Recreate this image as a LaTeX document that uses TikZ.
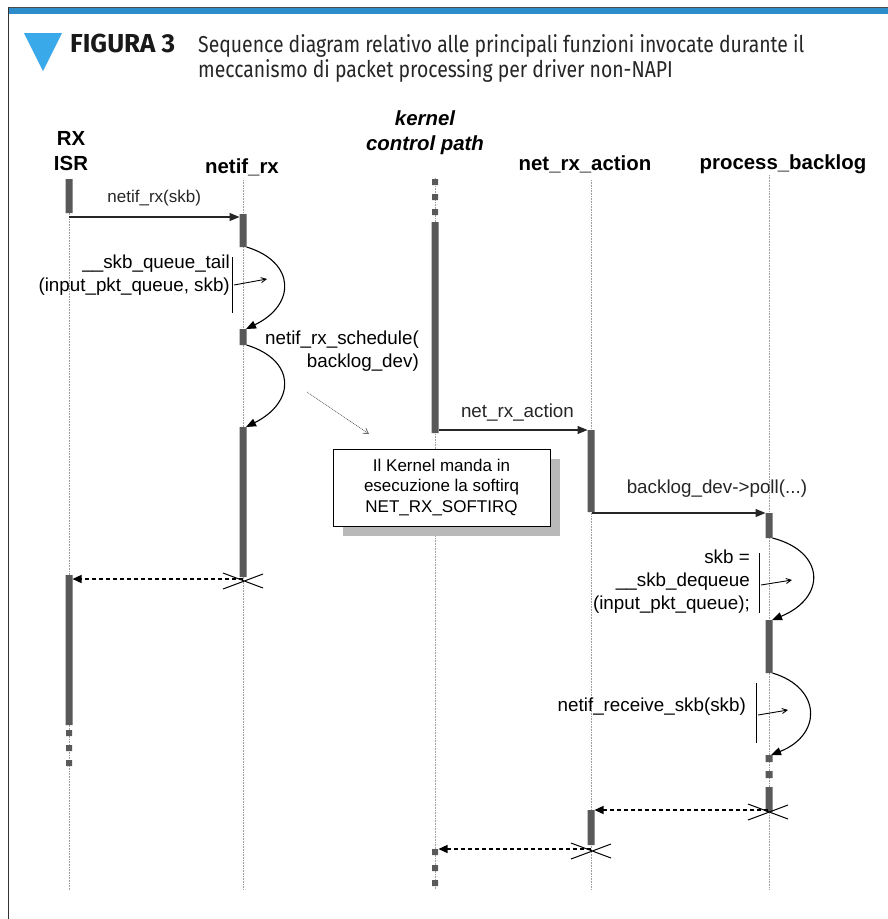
\documentclass[tikz,border=0pt]{standalone}
\usepackage{fontspec}
\setmainfont{Liberation Sans}
\newfontfamily\capfont[FakeStretch=0.843]{Fira Sans}
\newfontfamily\figfont{Fira Sans}
\usetikzlibrary{arrows.meta,shadows}
\definecolor{barcol}{HTML}{595959}
\definecolor{bandblue}{HTML}{2F8CCB}
\definecolor{triblue}{HTML}{3AA9EA}

\begin{document}
\begin{tikzpicture}[x=1pt, y=-1pt, font=\fontsize{18.8}{23}\selectfont,
	life/.style={gray!75, densely dotted, line width=0.6pt},
	bar/.style={fill=barcol},
	msg/.style={-{Triangle[length=10pt,width=8pt]}, line width=1.3pt, black!85},
	ret/.style={-{Triangle[length=9pt,width=8pt]}, dash pattern=on 4pt off 3pt, line width=1.3pt},
	self/.style={-{Triangle[length=10pt,width=8pt]}, line width=1.1pt},
	hint/.style={-{Straight Barb[length=5pt,width=5pt]}, line width=0.9pt},
	head/.style={font=\fontsize{20.4}{25}\selectfont\bfseries, align=center},
	lbl/.style={align=right, anchor=east, inner sep=0pt}]
	\useasboundingbox (0,0) rectangle (888,919);
	\fill[white] (0,0) rectangle (888,919);
	\draw[gray!60!black, line width=1pt] (8,7) -- (888,7);
	\fill[bandblue] (8,7.5) rectangle (888,13.5);
	\draw[gray!40!black, line width=1.2pt] (8.6,7) -- (8.6,919);
	\fill[triblue] (24,33) -- (62,33) -- (43,71) -- cycle;
	\node[anchor=base west, inner sep=0pt, text=black!90] (fig) at (70,52)
		{\figfont\bfseries\fontsize{26}{26}\selectfont FIGURA 3};
	\node[anchor=base west, inner sep=0pt, text=black!85] (cap1) at (198,52)
		{\capfont\fontsize{23}{25}\selectfont Sequence diagram relativo alle principali funzioni invocate durante il};
	\node[anchor=base west, inner sep=0pt, text=black!85] (cap2) at (198,77)
		{\capfont\fontsize{23}{25}\selectfont meccanismo di packet processing per driver non-NAPI};

	\node[head] (isr) at (71,151.5) {RX\\ISR};
	\node[head] (nrx) at (242,167) {netif\_rx};
	\node[head, font=\fontsize{20.4}{25}\selectfont\bfseries\itshape] (kcp) at (425,132.5) {kernel\\control path};
	\node[head] (nra) at (585,164) {net\_rx\_action};
	\node[head] (pb) at (783,164) {process\_backlog};

	\foreach \x/\y in {69/179, 243/180, 435/178, 591/180, 769/175}
		\draw[life] (\x,\y) -- (\x,890);

	\fill[bar]
	(65.5,179) rectangle (72.5,213)
	(65.5,575) rectangle (72.5,725)
	(66,730) rectangle (72,736) (66,745) rectangle (72,751) (66,760) rectangle (72,766)
	(239.5,214) rectangle (246.5,247)
	(239.5,329) rectangle (246.5,345)
	(239.5,427) rectangle (246.5,577)
	(432,179) rectangle (438,185) (432,194) rectangle (438,200) (432,209) rectangle (438,215)
	(431.5,222) rectangle (438.5,433)
	(432,849) rectangle (438,855) (432,865) rectangle (438,871) (432,880) rectangle (438,886)
	(587.5,430) rectangle (594.5,512)
	(587.5,810) rectangle (594.5,845)
	(765.5,513) rectangle (772.5,538)
	(765.5,620) rectangle (772.5,673)
	(765.5,755) rectangle (772.5,762) (765.5,771) rectangle (772.5,778)
	(765.5,787) rectangle (772.5,812);

	\coordinate (isrA) at (69,217);
	\coordinate (nrxA) at (239.5,217);
	\coordinate (kcpA) at (438.5,430);
	\coordinate (nraA) at (587.5,430);
	\coordinate (nraB) at (592,513);
	\coordinate (pbA) at (765.5,513);
	\coordinate (nrxX) at (243,579);
	\coordinate (isrB) at (72.5,579);
	\coordinate (pbX) at (768,810);
	\coordinate (nraC) at (594.5,810);
	\coordinate (nraX) at (591,849);
	\coordinate (kcpB) at (438.5,849);

	\draw[msg] (isrA) -- (nrxA) node[midway, above=7pt, font=\fontsize{17}{20}\selectfont] (m1) {netif\_rx(skb)};
	\draw[msg] (kcpA) -- (nraA) node[pos=0.53, above=5pt] (m2) {net\_rx\_action};
	\draw[msg] (nraB) -- (pbA) node[pos=0.72, above=12pt] (m3) {backlog\_dev->poll(...)};

	\draw[ret] (nrxX) -- (isrB);
	\draw[ret] (pbX) -- (nraC);
	\draw[ret] (nraX) -- (kcpB);
	\foreach \c in {nrxX, pbX, nraX}
		\draw[line width=1pt] (\c) ++(-20,-6) -- ++(40,15) (\c) ++(-20,10) -- ++(40,-15);

	\node[lbl] (qt) at (230,275) {\_\_skb\_queue\_tail\\(input\_pkt\_queue, skb)};
	\draw[line width=1pt] (232,257) -- (232,313);
	\draw[hint] (234,285) -- (267,279);
	\coordinate (nrxB) at (246.5,247);
	\coordinate (nrxC) at (246,329);
	\draw[self] (nrxB) .. controls (296,262) and (296,305) .. (nrxC);

	\node[lbl] (sch) at (419,351.5) {netif\_rx\_schedule(\\backlog\_dev)};
	\coordinate (nrxD) at (246.5,345);
	\coordinate (nrxE) at (246,427);
	\draw[self] (nrxD) .. controls (296,360) and (296,402) .. (nrxE);

	\node[draw=black, line width=1pt, fill=white, align=center, minimum width=217pt, minimum height=77pt,
		font=\fontsize{17}{20.5}\selectfont,
		drop shadow={shadow xshift=10pt, shadow yshift=-10pt, fill=gray!55, opacity=1}]
		(kbox) at (441.5,487.5) {Il Kernel manda in\\esecuzione la softirq\\NET\_RX\_SOFTIRQ};
	\coordinate (p1) at (307,392);
	\coordinate (p2) at (369,434);
	\draw[gray!80!black, densely dotted, line width=0.8pt, -{Straight Barb[length=5pt,width=6pt]}] (p1) -- (p2);

	\node[lbl] (dq) at (750,582) {skb =\\\_\_skb\_dequeue\\(input\_pkt\_queue);};
	\draw[line width=1pt] (759,553) -- (759,613);
	\draw[hint] (761,585) -- (792,580);
	\coordinate (pbB) at (772.5,538);
	\coordinate (pbC) at (772,620);
	\draw[self] (pbB) .. controls (826,552) and (826,598) .. (pbC);

	\node[lbl] (rcv) at (746,707) {netif\_receive\_skb(skb)};
	\draw[line width=1pt] (756,683) -- (756,743);
	\draw[hint] (758,715) -- (788,710);
	\coordinate (pbD) at (772.5,673);
	\coordinate (pbE) at (771,755);
	\draw[self] (pbD) .. controls (822,688) and (822,735) .. (pbE);
\end{tikzpicture}
\end{document}
